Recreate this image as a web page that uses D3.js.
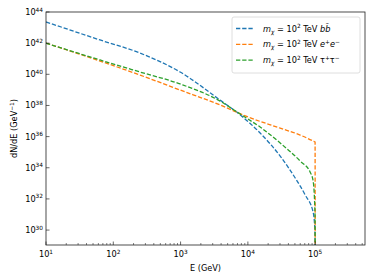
<!DOCTYPE html>
<html>
<head>
<meta charset="utf-8">
<script src="https://cdn.jsdelivr.net/npm/d3@7"></script>
<style>
  body { margin: 0; background: #fff; }
  svg { font-family: "DejaVu Sans", sans-serif; }
</style>
</head>
<body>
<svg id="chart" width="374" height="280"></svg>
<script>
// values (E in GeV, dN/dE in GeV^-1)
const bbE    = [10, 63.5, 250, 984, 3870, 7670, 15200, 30200, 50500, 71000, 93300, 99000, 100000];
const bbFlux = [2.3e43, 1.6e42, 2.3e41, 1.4e40, 2.2e38, 2.5e37, 1.7e36, 5.6e34, 2.2e33, 1.8e32, 1.4e31, 1e30, 1e28];

const eeE    = [10, 63.5, 250, 984, 3870, 10100, 30200, 59800, 93300, 99700, 100000];
const eeFlux = [1.0e42, 7.1e40, 8.9e39, 9.8e38, 1.07e38, 1.8e37, 3.5e36, 1.26e36, 5.2e35, 4.5e35, 1e28];

const ttE    = [10, 63.5, 250, 984, 3870, 7670, 15200, 30200, 59800, 84300, 93300, 99500, 100000];
const ttFlux = [1.0e42, 8.3e40, 1.4e40, 2.4e39, 1.9e38, 2.8e37, 4.1e36, 3.9e35, 2.7e34, 5.2e33, 1.4e33, 1e31, 1e28];

const yTickExp = [30, 32, 34, 36, 38, 40, 42, 44];
const xTickExp = [1, 2, 3, 4, 5];

const series = [
  {color: "#1f77b4", E: bbE, F: bbFlux, fin: [["b", "it"], ["b\u0304", "it"]]},
  {color: "#ff7f0e", E: eeE, F: eeFlux, fin: [["e", "it"], ["+", "sup"], ["e", "it"], ["\u2212", "sup"]]},
  {color: "#2ca02c", E: ttE, F: ttFlux, fin: [["\u03c4", ""], ["+", "sup"], ["\u03c4", ""], ["\u2212", "sup"]]}
];

const margin = {left: 46, right: 9, top: 12, bottom: 35};
const width = 374, height = 280;

const x = d3.scaleLog().domain([10, 5.5e5]).range([margin.left, width - margin.right]);
const y = d3.scaleLog().domain([1.1e29, 1e44]).range([height - margin.bottom, margin.top]);

const svg = d3.select("#chart");
const x0 = margin.left, y0 = height - margin.bottom;

svg.append("clipPath").attr("id", "clip")
  .append("rect")
    .attr("x", margin.left).attr("y", margin.top)
    .attr("width", x.range()[1] - margin.left)
    .attr("height", y0 - margin.top);

const line = d3.line()
  .x(d => x(d[0]))
  .y(d => y(d[1]))
  .curve(d3.curveMonotoneX);

const plot = svg.append("g").attr("clip-path", "url(#clip)");
series.forEach(s => {
  plot.append("path")
    .attr("d", line(s.E.map((e, i) => [e, s.F[i]])))
    .attr("fill", "none")
    .attr("stroke", s.color)
    .attr("stroke-width", 1.3)
    .attr("stroke-dasharray", "4.3,1.9");
});

// ticks point inward
const axisG = svg.append("g");

const minorX = [];
for (let p = 1; p <= 5; p++) for (let m = 2; m <= 9; m++) {
  const v = m * Math.pow(10, p);
  if (v < x.domain()[1]) minorX.push(v);
}
axisG.selectAll(".xminor").data(minorX).join("line")
  .attr("x1", d => x(d)).attr("x2", d => x(d))
  .attr("y1", y0).attr("y2", y0 - 2)
  .attr("stroke", "#000").attr("stroke-width", 0.5);

axisG.selectAll(".xmajor").data(xTickExp).join("line")
  .attr("x1", d => x(Math.pow(10, d))).attr("x2", d => x(Math.pow(10, d)))
  .attr("y1", y0).attr("y2", y0 - 3.5)
  .attr("stroke", "#000").attr("stroke-width", 0.6);

const xl = axisG.selectAll(".xlab").data(xTickExp).join("text")
  .attr("x", d => x(Math.pow(10, d)))
  .attr("y", y0 + 12)
  .attr("text-anchor", "middle")
  .attr("font-size", 8.2);
xl.append("tspan").text("10");
xl.append("tspan").attr("dy", -3.5).attr("font-size", 5.8).text(d => d);

axisG.selectAll(".ymajor").data(yTickExp).join("line")
  .attr("x1", x0).attr("x2", x0 + 3.5)
  .attr("y1", d => y(Math.pow(10, d))).attr("y2", d => y(Math.pow(10, d)))
  .attr("stroke", "#000").attr("stroke-width", 0.6);

const yl = axisG.selectAll(".ylab").data(yTickExp).join("text")
  .attr("x", x0 - 3)
  .attr("y", d => y(Math.pow(10, d)) + 3)
  .attr("text-anchor", "end")
  .attr("font-size", 8.2);
yl.append("tspan").text("10");
yl.append("tspan").attr("dy", -3.5).attr("font-size", 5.8).text(d => d);

// frame
svg.append("rect")
  .attr("x", margin.left).attr("y", margin.top)
  .attr("width", x.range()[1] - margin.left)
  .attr("height", y0 - margin.top)
  .attr("fill", "none").attr("stroke", "#222").attr("stroke-width", 0.8);

// axis labels
svg.append("text")
  .attr("x", (margin.left + x.range()[1]) / 2)
  .attr("y", 271)
  .attr("text-anchor", "middle")
  .attr("font-size", 8.2)
  .text("E (GeV)");

const ylab = svg.append("text")
  .attr("transform", `translate(17,${(margin.top + y0) / 2}) rotate(-90)`)
  .attr("text-anchor", "middle")
  .attr("font-size", 8.2);
ylab.append("tspan").text("dN/dE (GeV");
ylab.append("tspan").attr("dy", -3.3).attr("font-size", 5.8).text("\u22121");
ylab.append("tspan").attr("dy", 3.3).text(")");

// legend
const lg = svg.append("g");
lg.append("rect")
  .attr("x", 232).attr("y", 17).attr("width", 128).attr("height", 56)
  .attr("rx", 2)
  .attr("fill", "#fff").attr("fill-opacity", 0.8)
  .attr("stroke", "#d6d6d6").attr("stroke-width", 0.8);

series.forEach((s, i) => {
  const ly = 28.5 + i * 15.8;
  lg.append("line")
    .attr("x1", 236).attr("x2", 254).attr("y1", ly).attr("y2", ly)
    .attr("stroke", s.color).attr("stroke-width", 1.3)
    .attr("stroke-dasharray", "4.3,1.9");
  const t = lg.append("text").attr("x", 263).attr("y", ly + 3).attr("font-size", 8.2);
  t.append("tspan").attr("font-style", "italic").text("m");
  t.append("tspan").attr("font-style", "italic").attr("dy", 2).attr("font-size", 5.8).text("\u03c7");
  t.append("tspan").attr("dy", -2).text(" = 10");
  t.append("tspan").attr("dy", -3.5).attr("font-size", 5.8).text("2");
  t.append("tspan").attr("dy", 3.5).text(" TeV ");
  let raised = false;
  s.fin.forEach(f => {
    const sp = t.append("tspan").text(f[0]);
    if (f[1] === "it") sp.attr("font-style", "italic");
    if (f[1] === "sup") {
      sp.attr("font-size", 5.8).attr("dy", -3.5);
      raised = true;
    } else if (raised) {
      sp.attr("dy", 3.5);
      raised = false;
    }
  });
});
</script>
</body>
</html>
